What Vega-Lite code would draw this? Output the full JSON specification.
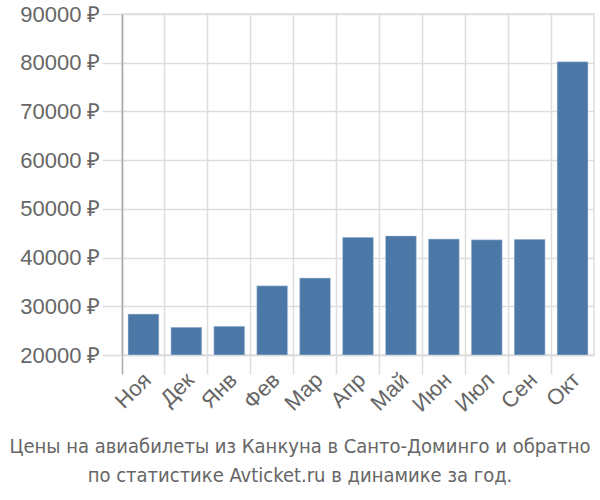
{
  "$schema": "https://vega.github.io/schema/vega-lite/v6.json",
  "width": 472,
  "height": 341,
  "autosize": {"type": "none"},
  "padding": {"left": 122, "top": 14, "right": 6, "bottom": 145},
  "background": "white",
  "data": {
    "values": [
      {"month": "Ноя", "price": 28400},
      {"month": "Дек", "price": 25700},
      {"month": "Янв", "price": 25900},
      {"month": "Фев", "price": 34200},
      {"month": "Мар", "price": 35800},
      {"month": "Апр", "price": 44150},
      {"month": "Май", "price": 44450},
      {"month": "Июн", "price": 43800},
      {"month": "Июл", "price": 43650},
      {"month": "Сен", "price": 43750},
      {"month": "Окт", "price": 80200}
    ]
  },
  "title": {
    "text": ["Цены на авиабилеты из Канкуна в Санто-Доминго и обратно", "по статистике Avticket.ru в динамике за год."],
    "orient": "bottom",
    "anchor": "middle",
    "dx": -58,
    "offset": 22,
    "font": "DejaVu Sans Condensed, Liberation Sans",
    "fontSize": 20,
    "fontWeight": "normal",
    "color": "#666666",
    "lineHeight": 29
  },
  "config": {
    "view": {"stroke": "#dddddd", "strokeWidth": 1.5},
    "axis": {"labelFont": "Liberation Sans", "labelColor": "#666666", "gridColor": "#dddddd", "gridWidth": 1.5, "tickColor": "#dddddd", "tickWidth": 1.5}
  },
  "mark": {"type": "bar", "color": "#4c78a8", "width": {"band": 0.72}, "stroke": "#c9d6e5", "strokeWidth": 0.5},
  "encoding": {
    "x": {
      "field": "month",
      "type": "nominal",
      "sort": null,
      "scale": {"paddingInner": 0, "paddingOuter": 0},
      "axis": {
        "title": null,
        "labelAngle": -45,
        "labelAlign": "right",
        "labelBaseline": "middle",
        "labelFontSize": 22,
        "labelPadding": 2,
        "bandPosition": 0,
        "grid": true,
        "tickSize": 19,
        "domainColor": "#dddddd",
        "domainWidth": 1.5,
        "labelOffset": 4,
        "tickColor": {"condition": {"test": "datum.value === 'Ноя'", "value": "#aaaaaa"}, "value": "#dddddd"}
      }
    },
    "y": {
      "field": "price",
      "type": "quantitative",
      "scale": {"domain": [20000, 90000], "nice": false, "zero": false},
      "axis": {
        "title": null,
        "values": [20000, 30000, 40000, 50000, 60000, 70000, 80000, 90000],
        "labelExpr": "datum.value + ' ₽'",
        "labelFontSize": 22,
        "labelPadding": 2,
        "tickSize": 20,
        "domainColor": "#aaaaaa",
        "domainWidth": 1.5
      }
    },
    "y2": {"datum": 20000}
  }
}
